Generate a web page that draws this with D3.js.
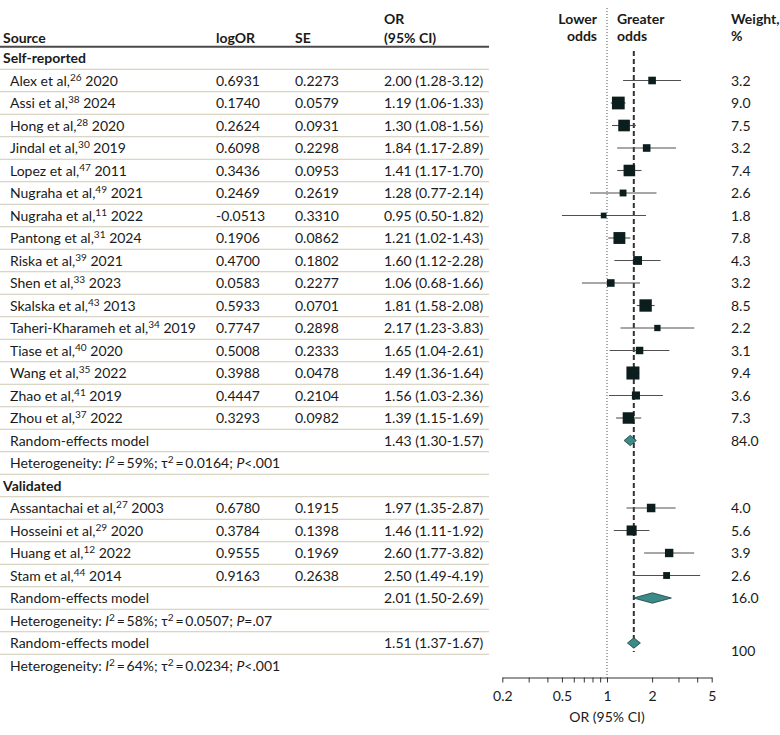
<!DOCTYPE html>
<html><head><meta charset="utf-8">
<script src="https://cdn.jsdelivr.net/npm/d3@7"></script>
<style>
body{margin:0;background:#fff;}
svg text{font-family:Lato,"Open Sans",sans-serif;fill:#1a1a1a;}
</style></head>
<body><svg id="c" width="780" height="735"></svg>
<script>
// ---- data ----
const groupNames = ["Self-reported", "Validated"];
const studyNames = [
 ["Alex et al,", "26", "2020"], ["Assi et al,", "38", "2024"], ["Hong et al,", "28", "2020"],
 ["Jindal et al,", "30", "2019"], ["Lopez et al,", "47", "2011"], ["Nugraha et al,", "49", "2021"],
 ["Nugraha et al,", "11", "2022"], ["Pantong et al,", "31", "2024"], ["Riska et al,", "39", "2021"],
 ["Shen et al,", "33", "2023"], ["Skalska et al,", "43", "2013"], ["Taheri-Kharameh et al,", "34", "2019"],
 ["Tiase et al,", "40", "2020"], ["Wang et al,", "35", "2022"], ["Zhao et al,", "41", "2019"],
 ["Zhou et al,", "37", "2022"],
 ["Assantachai et al,", "27", "2003"], ["Hosseini et al,", "29", "2020"], ["Huang et al,", "12", "2022"],
 ["Stam et al,", "44", "2014"]
];
const studyGroup = [0,0,0,0,0,0,0,0,0,0,0,0,0,0,0,0,1,1,1,1];
const logOR = ["0.6931","0.1740","0.2624","0.6098","0.3436","0.2469","-0.0513","0.1906","0.4700","0.0583","0.5933","0.7747","0.5008","0.3988","0.4447","0.3293","0.6780","0.3784","0.9555","0.9163"];
const SE = ["0.2273","0.0579","0.0931","0.2298","0.0953","0.2619","0.3310","0.0862","0.1802","0.2277","0.0701","0.2898","0.2333","0.0478","0.2104","0.0982","0.1915","0.1398","0.1969","0.2638"];
const OR = [2.00,1.19,1.30,1.84,1.41,1.28,0.95,1.21,1.60,1.06,1.81,2.17,1.65,1.49,1.56,1.39,1.97,1.46,2.60,2.50];
const lower = [1.28,1.06,1.08,1.17,1.17,0.77,0.50,1.02,1.12,0.68,1.58,1.23,1.04,1.36,1.03,1.15,1.35,1.11,1.77,1.49];
const upper = [3.12,1.33,1.56,2.89,1.70,2.14,1.82,1.43,2.28,1.66,2.08,3.83,2.61,1.64,2.36,1.69,2.87,1.92,3.82,4.19];
const weight = ["3.2","9.0","7.5","3.2","7.4","2.6","1.8","7.8","4.3","3.2","8.5","2.2","3.1","9.4","3.6","7.3","4.0","5.6","3.9","2.6"];
// pooled: subgroup 1, subgroup 2, overall
const pooledOR = [1.43, 2.01, 1.51];
const pooledLower = [1.30, 1.50, 1.37];
const pooledUpper = [1.57, 2.69, 1.67];
const pooledWeight = ["84.0", "16.0", "100"];
const hetI2 = ["59%", "58%", "64%"];
const hetTau2 = ["0.0164", "0.0507", "0.0234"];
const hetP = ["<.001", "=.07", "<.001"];
const tickValues = [0.2,0.3,0.4,0.5,0.6,0.7,0.8,0.9,1,2,3,4,5];
const tickLabels = [0.2,0.5,1,2,5];

// ---- layout ----
const svg = d3.select("#c");
const fs = 14;
const y0 = 58, pitch = 22.5;
const col = {src:3, srcIn:10, lo:216, se:295, or:384, w:731};
const x = d3.scaleLog().domain([0.2,5]).range([502.3,711.7]);
const f2 = d3.format(".2f");
const ciText = (o,l,u) => `${f2(o)} (${f2(l)}-${f2(u)})`;

// build rows
const rows = [];
[0,1].forEach(g => {
  rows.push({type:"group", g});
  studyNames.forEach((s,i) => { if (studyGroup[i]===g) rows.push({type:"study", i}); });
  rows.push({type:"pooled", p:g});
  rows.push({type:"het", p:g});
});
rows.push({type:"pooled", p:2});
rows.push({type:"het", p:2});
rows.forEach((r,k) => r.y = y0 + k*pitch);

// header
const hdr = svg.append("g").attr("font-size", fs).attr("font-weight", 700);
hdr.append("text").attr("x", col.src).attr("y", 43).text("Source");
hdr.append("text").attr("x", col.lo).attr("y", 43).text("logOR");
hdr.append("text").attr("x", col.se).attr("y", 43).text("SE");
hdr.append("text").attr("x", col.or).attr("y", 24).text("OR");
hdr.append("text").attr("x", col.or).attr("y", 43).text("(95% CI)");
hdr.append("text").attr("x", 597).attr("y", 24).attr("text-anchor","end").text("Lower");
hdr.append("text").attr("x", 597).attr("y", 41).attr("text-anchor","end").text("odds");
hdr.append("text").attr("x", 617).attr("y", 24).text("Greater");
hdr.append("text").attr("x", 617).attr("y", 41).text("odds");
hdr.append("text").attr("x", col.w).attr("y", 24).text("Weight,");
hdr.append("text").attr("x", col.w).attr("y", 41).text("%");
svg.append("line").attr("x1",0).attr("x2",489).attr("y1",46.8).attr("y2",46.8)
  .attr("stroke","#4a4a4a").attr("stroke-width",2);

// separators
svg.append("g").selectAll("line").data(rows.slice(0, rows.length-1)).join("line")
  .attr("x1",0).attr("x2",489).attr("y1", r => r.y+11.25).attr("y2", r => r.y+11.25)
  .attr("stroke","#cdc9b4").attr("stroke-width",1);

// reference lines
svg.append("line").attr("x1", x(1)).attr("x2", x(1)).attr("y1", 8).attr("y2", 677.5)
  .attr("stroke","#555").attr("stroke-width",1).attr("stroke-dasharray","1,2");
svg.append("line").attr("x1", x(pooledOR[2])).attr("x2", x(pooledOR[2])).attr("y1", 51).attr("y2", 652)
  .attr("stroke","#333").attr("stroke-width",2).attr("stroke-dasharray","5,3");

const body = svg.append("g").attr("font-size", fs);
const sup = (t, s) => t.append("tspan").attr("font-size", fs*0.72).attr("dy", -5).text(s);

rows.forEach(r => {
  const cy = r.y, ty = r.y + 5;
  if (r.type === "group") {
    body.append("text").attr("x", col.src).attr("y", ty).attr("font-weight",700).text(groupNames[r.g]);
  } else if (r.type === "study") {
    const i = r.i;
    const t = body.append("text").attr("x", col.srcIn).attr("y", ty);
    t.append("tspan").text(studyNames[i][0]);
    sup(t, studyNames[i][1]);
    t.append("tspan").attr("dy", 5).text(" " + studyNames[i][2]);
    body.append("text").attr("x", col.lo).attr("y", ty).text(logOR[i]);
    body.append("text").attr("x", col.se).attr("y", ty).text(SE[i]);
    body.append("text").attr("x", col.or).attr("y", ty).text(ciText(OR[i], lower[i], upper[i]));
    body.append("text").attr("x", col.w).attr("y", ty).text(weight[i]);
    svg.append("line").attr("x1", x(lower[i])).attr("x2", x(upper[i])).attr("y1", cy).attr("y2", cy)
      .attr("stroke","#505050").attr("stroke-width",1.1);
    const s = 4.25*Math.sqrt(+weight[i]);
    svg.append("rect").attr("x", x(OR[i])-s/2).attr("y", cy-s/2).attr("width", s).attr("height", s)
      .attr("fill","#0b1d1d");
  } else if (r.type === "pooled") {
    const p = r.p;
    body.append("text").attr("x", col.srcIn).attr("y", ty).text("Random-effects model");
    body.append("text").attr("x", col.or).attr("y", ty).text(ciText(pooledOR[p], pooledLower[p], pooledUpper[p]));
    body.append("text").attr("x", col.w).attr("y", ty + (p===2 ? 8 : 0)).text(pooledWeight[p]);
    const h = 5.2;
    svg.append("path")
      .attr("d", `M${x(pooledLower[p])},${cy} L${x(pooledOR[p])},${cy-h} L${x(pooledUpper[p])},${cy} L${x(pooledOR[p])},${cy+h} Z`)
      .attr("fill","#3b8b88").attr("stroke","#1f3f3f").attr("stroke-width",0.8);
  } else {
    const p = r.p;
    const t = body.append("text").attr("x", col.srcIn).attr("y", ty);
    t.append("tspan").text("Heterogeneity: ");
    t.append("tspan").attr("font-style","italic").text("I");
    sup(t, "2");
    t.append("tspan").attr("dy", 5).text("\u2009=\u2009" + hetI2[p] + "; \u03C4");
    sup(t, "2");
    t.append("tspan").attr("dy", 5).text("\u2009=\u2009" + hetTau2[p] + "; ");
    t.append("tspan").attr("font-style","italic").text("P");
    t.append("tspan").text(hetP[p]);
  }
});

// axis
const ax = svg.append("g").attr("transform","translate(0,677.5)")
  .call(d3.axisBottom(x).tickValues(tickValues).tickSize(5).tickSizeOuter(0)
    .tickFormat(d => tickLabels.includes(d) ? String(d) : ""));
ax.select(".domain").attr("stroke","#333");
ax.selectAll(".tick line").attr("stroke","#333");
ax.selectAll(".tick text").attr("font-size", 14).attr("font-family","Lato,sans-serif").attr("fill","#1a1a1a").attr("dy","1.1em");
svg.append("text").attr("x", x(1)).attr("y", 722).attr("text-anchor","middle").attr("font-size", 14).text("OR (95% CI)");
</script></body></html>
